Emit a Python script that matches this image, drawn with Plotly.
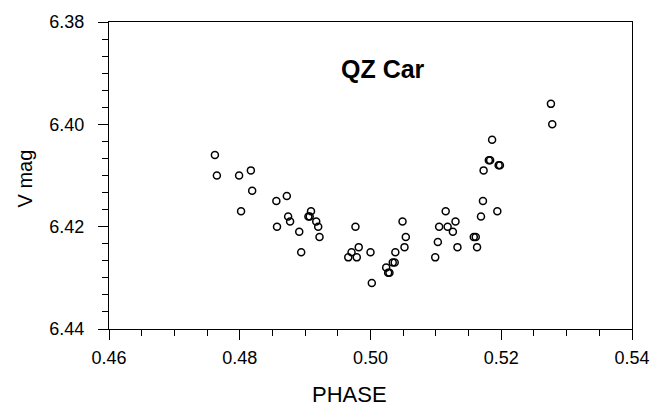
import plotly.graph_objects as go

# Phase-folded V photometry of QZ Car
phase = [
    0.4762, 0.4765, 0.4799, 0.4817, 0.4819, 0.4802, 0.4856, 0.4872, 0.4857, 0.4874,
    0.4877, 0.4891, 0.4894, 0.4905, 0.4907, 0.4909, 0.4917, 0.4920, 0.4922, 0.4977,
    0.4982, 0.4971, 0.4966, 0.4979, 0.5000, 0.5002, 0.5024, 0.5027, 0.5029, 0.5034,
    0.5037, 0.5038, 0.5049, 0.5054, 0.5052, 0.5099, 0.5103, 0.5105, 0.5115, 0.5118,
    0.5126, 0.5130, 0.5133, 0.5158, 0.5161, 0.5163, 0.5169, 0.5172, 0.5194, 0.5173,
    0.5181, 0.5183, 0.5186, 0.5196, 0.5198, 0.5276, 0.5278,
]
vmag = [
    6.406, 6.410, 6.410, 6.409, 6.413, 6.417, 6.415, 6.414, 6.420, 6.418,
    6.419, 6.421, 6.425, 6.418, 6.418, 6.417, 6.419, 6.420, 6.422, 6.420,
    6.424, 6.425, 6.426, 6.426, 6.425, 6.431, 6.428, 6.429, 6.429, 6.427,
    6.427, 6.425, 6.419, 6.422, 6.424, 6.426, 6.423, 6.420, 6.417, 6.420,
    6.421, 6.419, 6.424, 6.422, 6.422, 6.424, 6.418, 6.415, 6.417, 6.409,
    6.407, 6.407, 6.403, 6.408, 6.408, 6.396, 6.400,
]

x_ticks = [0.46, 0.48, 0.50, 0.52, 0.54]
x_tick_text = ["0.46", "0.48", "0.50", "0.52", "0.54"]
y_ticks = [6.38, 6.40, 6.42, 6.44]
y_tick_text = ["6.38", "6.40", "6.42", "6.44"]

FONT = "Liberation Sans, Arial, sans-serif"
W, H = 668, 407
L, R, T, B = 109, 36, 15, 78

fig = go.Figure(
    go.Scatter(
        x=phase,
        y=vmag,
        mode="markers",
        marker=dict(symbol="circle-open", size=7, color="black", line=dict(width=1.5, color="black")),
        showlegend=False,
    )
)

fig.add_annotation(
    x=0.5019, y=6.3892, xref="x", yref="y",
    text="<b>QZ Car</b>", showarrow=False,
    font=dict(family=FONT, size=25, color="black"),
)

# axis titles placed in pixel terms relative to the plot area
pw, ph = W - L - R, H - T - B
fig.add_annotation(
    x=(349 - L) / pw, y=(H - B - 396) / ph, xref="paper", yref="paper",
    xanchor="center", yanchor="middle",
    text="PHASE", showarrow=False,
    font=dict(family=FONT, size=22, color="black"),
)
fig.add_annotation(
    x=(25 - L) / pw, y=(H - B - 175) / ph, xref="paper", yref="paper",
    xanchor="center", yanchor="middle", textangle=-90,
    text="V mag", showarrow=False,
    font=dict(family=FONT, size=20, color="black"),
)

fig.update_xaxes(
    range=[0.46, 0.54],
    tickvals=x_ticks, ticktext=x_tick_text,
    ticks="outside", ticklen=10, tickwidth=1, tickcolor="black",
    minor=dict(dtick=0.005, ticks="outside", ticklen=6, tickwidth=1, tickcolor="black", showgrid=False),
    showline=True, linecolor="black", linewidth=1, mirror=True,
    showgrid=False, zeroline=False,
    tickfont=dict(family=FONT, size=18, color="black"),
    ticklabelstandoff=2,
)
fig.update_yaxes(
    range=[6.44, 6.38],
    tickvals=y_ticks, ticktext=y_tick_text,
    ticks="outside", ticklen=10, tickwidth=1, tickcolor="black",
    minor=dict(dtick=0.02 / 6, tick0=6.38, ticks="outside", ticklen=6, tickwidth=1, tickcolor="black", showgrid=False),
    showline=True, linecolor="black", linewidth=1, mirror=True,
    showgrid=False, zeroline=False,
    tickfont=dict(family=FONT, size=18, color="black"),
    ticklabelstandoff=10,
)

fig.update_layout(
    width=W, height=H,
    margin=dict(l=L, r=R, t=T, b=B),
    paper_bgcolor="white", plot_bgcolor="white",
)

fig.write_html("out.html")
